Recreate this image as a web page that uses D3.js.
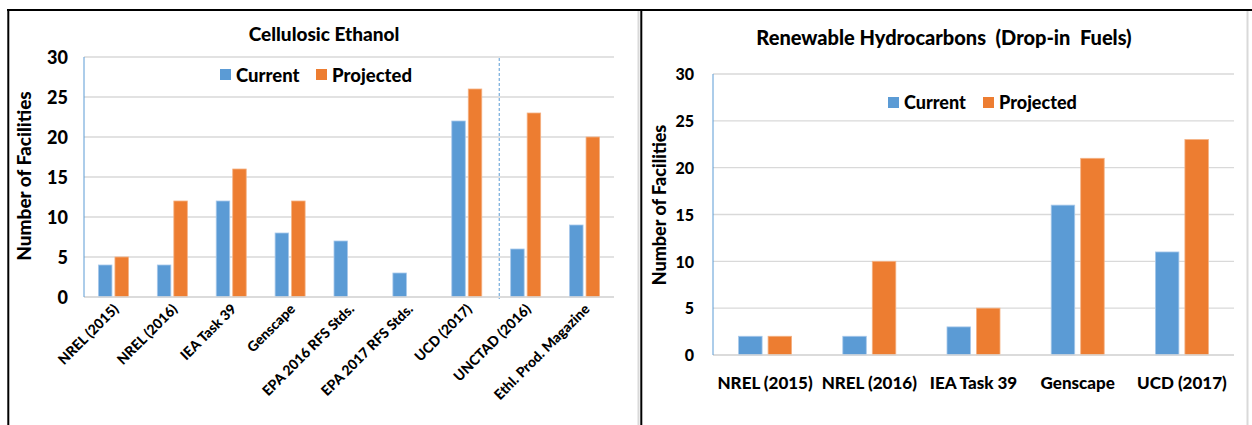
<!DOCTYPE html>
<html>
<head>
<meta charset="utf-8">
<script src="https://cdn.jsdelivr.net/npm/d3@7/dist/d3.min.js"></script>
<style>
  html, body { margin: 0; padding: 0; background: #fff; }
  svg { display: block; font-family: Lato, "Open Sans", sans-serif; font-weight: 900; }
</style>
</head>
<body>
<svg id="chart" width="1252" height="425"></svg>
<script>
// Cellulosic ethanol facility counts by source
const ethanolSources = ["NREL (2015)", "NREL (2016)", "IEA Task 39", "Genscape",
  "EPA 2016 RFS Stds.", "EPA 2017 RFS Stds.", "UCD (2017)", "UNCTAD (2016)", "Ethl. Prod. Magazine"];
const ethanolCurrent   = [4, 4, 12, 8, 7, 3, 22, 6, 9];
const ethanolProjected = [5, 12, 16, 12, 0, 0, 26, 23, 20];

// Renewable hydrocarbon (drop-in fuel) facility counts by source
const dropinSources = ["NREL (2015)", "NREL (2016)", "IEA Task 39", "Genscape", "UCD (2017)"];
const dropinCurrent   = [2, 2, 3, 16, 11];
const dropinProjected = [2, 10, 5, 21, 23];

const yTicks = [0, 5, 10, 15, 20, 25, 30];
const seriesNames = ["Current", "Projected"];
const colors = ["#5B9BD5", "#ED7D31"];
const edgeColors = ["#A7C8EA", "#F4B183"];

const svg = d3.select("#chart");

// Panel frames
const frame = svg.append("g");
frame.append("line").attr("x1", 638.5).attr("x2", 638.5).attr("y1", 11).attr("y2", 425)
  .attr("stroke", "#d9d9d9").attr("stroke-width", 2);
frame.append("line").attr("x1", 1247.5).attr("x2", 1247.5).attr("y1", 11).attr("y2", 425)
  .attr("stroke", "#d9d9d9").attr("stroke-width", 2);
frame.append("line").attr("x1", 7).attr("x2", 1252).attr("y1", 10).attr("y2", 10)
  .attr("stroke", "#000").attr("stroke-width", 2);
frame.append("line").attr("x1", 8.3).attr("x2", 8.3).attr("y1", 9).attr("y2", 425)
  .attr("stroke", "#000").attr("stroke-width", 2);
frame.append("line").attr("x1", 641.3).attr("x2", 641.3).attr("y1", 9).attr("y2", 425)
  .attr("stroke", "#000").attr("stroke-width", 2);

function drawPanel(cfg) {
  const g = svg.append("g");
  const x = d3.scaleBand().domain(cfg.categories).range([cfg.left, cfg.right]);
  const y = d3.scaleLinear().domain([0, 30]).range([cfg.bottom, cfg.top]);

  // gridlines
  g.append("g").selectAll("line").data(yTicks).join("line")
    .attr("x1", cfg.left).attr("x2", cfg.right)
    .attr("y1", d => y(d)).attr("y2", d => y(d))
    .attr("stroke", "#d9d9d9").attr("stroke-width", 1.3);

  // y axis labels
  const yAxis = d3.axisLeft(y).tickValues(yTicks).tickSize(0).tickPadding(0);
  const ya = g.append("g").attr("transform", `translate(${cfg.yLabelX},0)`).call(yAxis);
  ya.select(".domain").remove();
  ya.selectAll("text").attr("font-size", cfg.yFont).attr("font-family", "Lato")
    .attr("font-weight", 900).attr("fill", "#000").attr("dy", "0.36em");

  // optional divider
  if (cfg.dividerAfter) {
    const dx = x(cfg.dividerAfter) + x.bandwidth() + cfg.dividerShift;
    g.append("line").attr("x1", dx).attr("x2", dx).attr("y1", y(30) + 1).attr("y2", y(0) + 2)
      .attr("stroke", "#5B9BD5").attr("stroke-width", 1).attr("stroke-dasharray", "3,2");
  }

  // bars
  const rows = cfg.categories.map((c, i) => ({ cat: c, vals: [cfg.current[i], cfg.projected[i]] }));
  const groups = g.append("g").selectAll("g").data(rows).join("g")
    .attr("transform", d => `translate(${x(d.cat) + x.bandwidth() / 2},0)`);
  seriesNames.forEach((s, k) => {
    groups.filter(d => d.vals[k] > 0).append("rect")
      .attr("x", k === 0 ? -cfg.gap / 2 - cfg.barW : cfg.gap / 2)
      .attr("width", cfg.barW)
      .attr("y", d => y(d.vals[k]))
      .attr("height", d => y(0) - y(d.vals[k]))
      .attr("fill", colors[k])
      .attr("stroke", edgeColors[k]).attr("stroke-width", 0.8);
  });

  // baseline and vertical axis line
  g.append("line").attr("x1", cfg.left).attr("x2", cfg.right)
    .attr("y1", y(0)).attr("y2", y(0)).attr("stroke", "#d9d9d9").attr("stroke-width", 1.3);
  g.append("line").attr("x1", cfg.left).attr("x2", cfg.left)
    .attr("y1", y(30)).attr("y2", y(0)).attr("stroke", "#5B9BD5").attr("stroke-width", 1);

  // x labels
  const xl = g.append("g").selectAll("text").data(cfg.categories).join("text")
    .text(d => d).attr("font-size", cfg.xFont).attr("fill", "#000");
  if (cfg.rotate) {
    xl.attr("text-anchor", "end")
      .attr("transform", d => `translate(${x(d) + x.bandwidth() / 2 + cfg.xLabelDx},${cfg.xLabelY}) rotate(-45)`);
  } else {
    xl.attr("text-anchor", "middle").attr("x", d => x(d) + x.bandwidth() / 2).attr("y", cfg.xLabelY);
  }

  // title
  g.append("text").attr("x", cfg.titleX).attr("y", cfg.titleY).attr("text-anchor", "middle")
    .attr("font-size", cfg.titleFont).attr("xml:space", "preserve").style("white-space", "pre")
    .text(cfg.title);

  // y axis title
  g.append("text").attr("transform", `translate(${cfg.yTitleX},${cfg.yTitleY}) rotate(-90)`)
    .attr("text-anchor", "middle").attr("font-size", cfg.yTitleFont).text("Number of Facilities");

  // legend
  const lg = g.append("g");
  seriesNames.forEach((s, k) => {
    lg.append("rect").attr("x", cfg.legendX[k]).attr("y", cfg.legendY - 6)
      .attr("width", cfg.legendSq).attr("height", cfg.legendSq).attr("fill", colors[k]);
    lg.append("text").attr("x", cfg.legendX[k] + cfg.legendSq + 5).attr("y", cfg.legendY)
      .attr("dy", "0.36em").attr("font-size", cfg.legendFont).text(s);
  });
}

drawPanel({
  categories: ethanolSources, current: ethanolCurrent, projected: ethanolProjected,
  left: 84, right: 614, top: 57, bottom: 297,
  barW: 13.5, gap: 3,
  yLabelX: 68, yFont: 18,
  dividerAfter: "UCD (2017)", dividerShift: 3,
  rotate: true, xFont: 14, xLabelDx: 6, xLabelY: 310,
  title: "Cellulosic Ethanol", titleX: 324, titleY: 41, titleFont: 19,
  yTitleX: 31, yTitleY: 176, yTitleFont: 19,
  legendX: [220, 316], legendY: 75, legendSq: 11, legendFont: 18.5
});

drawPanel({
  categories: dropinSources, current: dropinCurrent, projected: dropinProjected,
  left: 713, right: 1234, top: 74, bottom: 355,
  barW: 23.5, gap: 6,
  yLabelX: 694, yFont: 16,
  dividerAfter: null,
  rotate: false, xFont: 17, xLabelY: 389,
  title: "Renewable Hydrocarbons  (Drop-in  Fuels)", titleX: 944, titleY: 45, titleFont: 20,
  yTitleX: 666, yTitleY: 205, yTitleFont: 18,
  legendX: [888, 983], legendY: 103, legendSq: 11, legendFont: 18
});
</script>
</body>
</html>
